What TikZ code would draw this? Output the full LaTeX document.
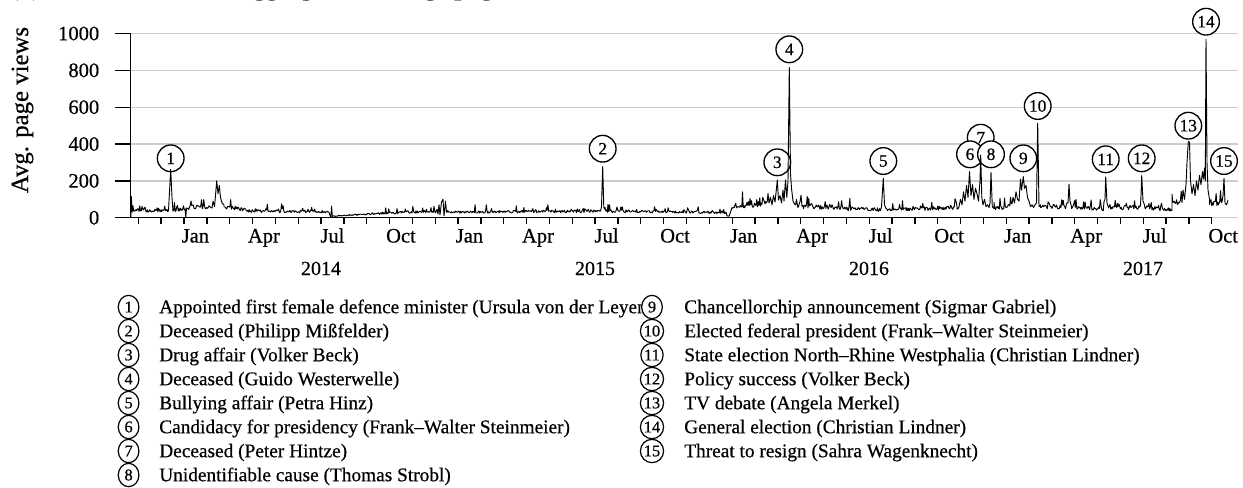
\documentclass[tikz,border=0pt]{standalone}
\usepackage{fontspec}
\setmainfont{Liberation Serif}[FakeBold=0.5]
\usetikzlibrary{shapes.geometric}
\newcommand\myfs[1]{\fontsize{#1}{#1}\selectfont}
\newcommand\sg[5]{-- plot[domain=#1:#2,samples=#5,variable=\q] (\q,{Y(Nz(#3+(#4-#3)*(\q-#1)/(#2-#1)))})}
\newcommand\pv[2]{-- (#1,{Y(#2)})}
\begin{document}
\begin{tikzpicture}[x=0.75pt,y=-0.75pt,
  declare function={Y(\yy)=217.7-0.1842*\yy; Nz(\bb)=\bb*(0.78+0.44*rnd+1.1*pow(rnd,14));},
  gridline/.style={draw=black!20, line width=1pt},
  ax/.style={draw=black, line width=1pt},
  data/.style={draw=black, line width=0.7pt, line join=round},
  ticklab/.style={font=\myfs{15.4}, inner sep=0pt},
  yearlab/.style={font=\myfs{15}, inner sep=0pt, anchor=base},
  mk/.style={circle, draw=black, fill=white, line width=1pt, minimum size=20pt, inner sep=0pt, font=\myfs{13}},
  lgmk/.style={ellipse, draw=black, fill=white, line width=0.9pt, minimum width=15.5pt, minimum height=17.5pt, inner sep=0pt, font=\myfs{12.3}},
  lgtext/.style={anchor=base west, inner sep=0pt, font=\myfs{14.5}},
]
\useasboundingbox (0,0) rectangle (1243,487);
\pgfmathsetseed{7}
% title (cut off at top)
\node[anchor=base west, inner sep=0pt, font=\myfs{18.75}\bfseries] (title) at (10,-5) {(b) Time series of the aggregated average page views};
% grid
\foreach \v in {0,200,...,1000} \draw[gridline] (130,{Y(\v)}) -- (1238,{Y(\v)});
% y axis
\draw[ax] (130.5,{Y(1000)}) -- (130.5,{Y(0)});
\foreach \v in {0,200,...,1000} {
  \draw[ax] (115,{Y(\v)}) -- (130.5,{Y(\v)});
  \node[ticklab, anchor=east] (yl\v) at (99.5,{Y(\v)}) {\v};
}
\node[rotate=90, inner sep=0pt, font=\myfs{18.6}] (ylab) at (22.5,110) {Avg. page views};
% x axis
\draw[ax] (130,{Y(0)}) -- (1211.7,{Y(0)});
\foreach \m in {-2,...,45} \draw[ax] ({184+22.84*\m},217.7) -- ({184+22.84*\m},224.3);
\foreach \m/\t [count=\i] in {0/Jan,3/Apr,6/Jul,9/Oct,12/Jan,15/Apr,18/Jul,21/Oct,24/Jan,27/Apr,30/Jul,33/Oct,36/Jan,39/Apr,42/Jul,45/Oct}
  \node[ticklab, anchor=base] (xl\i) at ({184+22.84*\m+11.42},242.5) {\t};
\node[yearlab] (y2014) at (321,275) {2014};
\node[yearlab] (y2015) at (595,275) {2015};
\node[yearlab] (y2016) at (869,275) {2016};
\node[yearlab] (y2017) at (1143,275) {2017};
% event markers
\node[mk] (e7) at (980.7,137.7) {7};
\node[mk] (e1) at (170.7,158.3) {1};
\node[mk] (e2) at (602.7,148.7) {2};
\node[mk] (e3) at (777.3,162.3) {3};
\node[mk] (e4) at (789.3,49.3) {4};
\node[mk] (e5) at (883.3,161) {5};
\node[mk] (e6) at (970,154.3) {6};
\node[mk] (e8) at (991,154.3) {8};
\node[mk] (e9) at (1023.3,158.3) {9};
\node[mk] (e10) at (1037.7,106) {10};
\node[mk] (e11) at (1105.7,159.3) {11};
\node[mk] (e12) at (1141.7,158.3) {12};
\node[mk] (e13) at (1188.3,125.7) {13};
\node[mk] (e14) at (1206,21.7) {14};
\node[mk] (e15) at (1224,161) {15};
% data
\draw[data] (130.8,{Y(0)}) \pv{131.3}{115} \pv{132.2}{30}
 \sg{132.2}{168.5}{38}{40}{49}
 \pv{169.3}{120}\pv{170.7}{262}\pv{172}{110}\pv{173}{35}
 \sg{173}{185}{42}{45}{17}
 \pv{185.8}{3}
 \sg{186.5}{212}{55}{62}{35}
 \pv{213}{90}\pv{214.5}{60}\pv{215.5}{120}\pv{216.7}{200}\pv{218}{130}\pv{219.3}{175}\pv{220.5}{110}\pv{222}{80}\pv{224}{70}
 \sg{224}{250}{60}{38}{36}
 \sg{250}{329}{36}{32}{106}
 \pv{330}{12}\pv{330.8}{2}\pv{331.6}{63}\pv{332.4}{3}
 \sg{332.4}{400}{8}{28}{91}
 \sg{400}{437}{30}{33}{50}
 \pv{438}{20}\pv{439}{70}\pv{440}{15}\pv{441.5}{85}\pv{443}{100}\pv{444}{10}\pv{445.5}{90}\pv{446.5}{30}\pv{448}{40}
 \sg{448}{600.5}{30}{36}{204}
 \pv{601.5}{60}\pv{602.7}{277}\pv{603.8}{55}\pv{605}{45}
 \sg{605}{726}{35}{28}{162}
 \pv{727}{10}\pv{729}{8}\pv{730.5}{30}\pv{732}{55}
 \sg{732}{768}{65}{75}{49}
 \pv{769}{80}\pv{770.5}{110}\pv{772}{70}\pv{773.5}{120}\pv{775}{85}\pv{776.3}{150}\pv{777.3}{205}\pv{778.5}{95}\pv{780}{120}\pv{781.5}{80}\pv{783}{150}\pv{784}{90}\pv{785.5}{205}\pv{786.8}{110}\pv{788}{200}\pv{789.3}{815}\pv{790.5}{240}\pv{791.5}{160}\pv{793}{90}\pv{795}{70}
 \sg{795}{800}{65}{64}{8}
 \pv{801}{122}
 \sg{802}{880.5}{63}{42}{106}
 \pv{881.5}{60}\pv{883.3}{214}\pv{884.5}{70}\pv{886}{50}
 \sg{886}{958}{42}{55}{97}
 \pv{959}{60}\pv{960.5}{100}\pv{962}{70}\pv{963.5}{140}\pv{965}{90}\pv{966.5}{175}\pv{968}{110}\pv{969.5}{250}\pv{971}{120}\pv{972.5}{180}\pv{974}{100}\pv{975.5}{160}\pv{977}{130}\pv{978.5}{90}\pv{980}{200}\pv{980.7}{340}\pv{981.8}{110}\pv{983}{70}\pv{984.5}{100}\pv{986}{60}\pv{987.5}{70}\pv{989}{55}\pv{990}{80}\pv{991}{246}\pv{992.3}{60}\pv{994}{50}
 \sg{994}{1012}{50}{65}{25}
 \pv{1013}{110}\pv{1014.5}{80}\pv{1016}{140}\pv{1017.5}{100}\pv{1019}{90}\pv{1020.5}{210}\pv{1021.5}{150}\pv{1023.3}{223}\pv{1024.5}{160}\pv{1026}{175}\pv{1027.5}{110}\pv{1029}{90}\pv{1030.5}{60}\pv{1032}{70}\pv{1033.5}{55}\pv{1035}{70}\pv{1036.5}{80}\pv{1037.7}{512}\pv{1039}{60}\pv{1040.5}{70}
 \sg{1040.5}{1067}{60}{62}{36}
 \pv{1068}{80}\pv{1069}{183}\pv{1070}{90}\pv{1071.5}{60}
 \sg{1071.5}{1104}{55}{45}{44}
 \pv{1105}{100}\pv{1105.7}{221}\pv{1107}{80}\pv{1108.5}{55}
 \sg{1108.5}{1140.5}{50}{55}{44}
 \pv{1141}{120}\pv{1141.7}{228}\pv{1143}{90}\pv{1144.5}{70}
 \sg{1144.5}{1172}{55}{45}{38}
 \sg{1172}{1182}{70}{90}{14}
 \pv{1183}{150}\pv{1184.5}{100}\pv{1186}{180}\pv{1187}{300}\pv{1188.3}{413}\pv{1189.5}{410}\pv{1190.5}{200}\pv{1192}{130}\pv{1193.5}{180}\pv{1195}{120}\pv{1196.5}{200}\pv{1198}{150}\pv{1199.5}{230}\pv{1201}{180}\pv{1202.5}{250}\pv{1203.5}{210}\pv{1204.5}{270}\pv{1205.3}{200}\pv{1206}{969}\pv{1207}{300}\pv{1208}{150}\pv{1209.5}{100}
 \sg{1209.5}{1222}{80}{85}{18}
 \pv{1223}{120}\pv{1224}{214}\pv{1225}{80}\pv{1226.5}{70}\pv{1228}{95};
% legend, left column
\foreach \n/\txt [count=\i from 0] in {
  1/{Appointed first female defence minister (Ursula von der Leyen},
  2/{Deceased (Philipp Mi\ss felder)},
  3/{Drug affair (Volker Beck)},
  4/{Deceased (Guido Westerwelle)},
  5/{Bullying affair (Petra Hinz)},
  6/{Candidacy for presidency (Frank\textendash Walter Steinmeier)},
  7/{Deceased (Peter Hintze)},
  8/{Unidentifiable cause (Thomas Strobl)}} {
  \node[lgtext] (lt\n) at (159,{307+24*\i+6.2}) {\txt};
  \node[lgmk] (lm\n) at (128.6,{307+24*\i}) {\n};
}
% legend, right column
\foreach \n/\txt [count=\i from 0] in {
  9/{Chancellorchip announcement (Sigmar Gabriel)},
  10/{Elected federal president (Frank\textendash Walter Steinmeier)},
  11/{State election North\textendash Rhine Westphalia (Christian Lindner)},
  12/{Policy success (Volker Beck)},
  13/{TV debate (Angela Merkel)},
  14/{General election (Christian Lindner)},
  15/{Threat to resign (Sahra Wagenknecht)}} {
  \node[lgtext] (lt\n) at (684,{307+24*\i+6.2}) {\txt};
  \node[lgmk] (lm\n) at (652,{307+24*\i}) {\n};
}
\end{tikzpicture}
\end{document}
